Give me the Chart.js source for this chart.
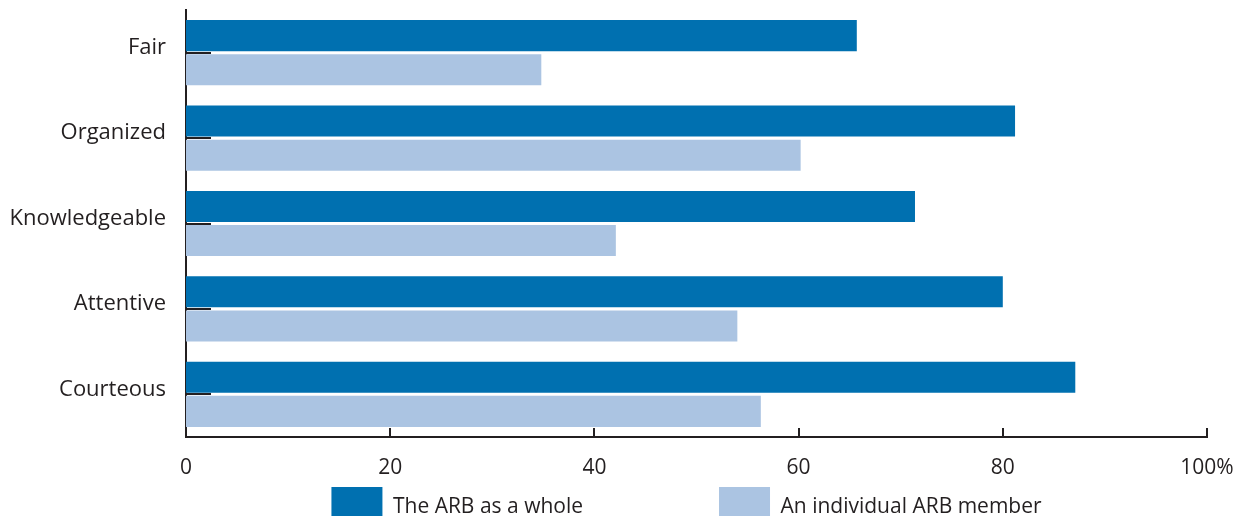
<!DOCTYPE html>
<html>
<head>
<meta charset="utf-8">
<script src="https://cdn.jsdelivr.net/npm/chart.js@4/dist/chart.umd.min.js"></script>
<style>
  html, body { margin: 0; padding: 0; background: #fff; }
  #wrap { width: 1233px; height: 516px; }
</style>
</head>
<body>
<div id="wrap"><canvas id="arbChart" width="1233" height="516"></canvas></div>
<script>
const categories = ['Fair', 'Organized', 'Knowledgeable', 'Attentive', 'Courteous'];
const arbWhole = [65.7, 81.2, 71.4, 80.0, 87.1];
const arbMember = [34.8, 60.2, 42.1, 54.0, 56.3];
const xTicks = [0, 20, 40, 60, 80, 100];

const ink = '#231f20';
const fontFamily = '"Open Sans", "DejaVu Sans", sans-serif';
const legendGap = 136;

// small inward tick marks on both axes, legend placed under the plot
const innerTicks = {
  id: 'innerTicks',
  beforeLayout(chart) {
    const lg = chart.legend;
    if (lg && !lg._fixedFit) {
      const fit = lg.fit;
      lg.fit = function () { fit.call(this); this.height = 29; };
      lg._fixedFit = true;
    }
  },
  afterLayout(chart) {
    const lg = chart.legend;
    lg.left = chart.chartArea.left - 10;
    lg.right = chart.chartArea.right - 10;
    lg.top = 487 - legendGap;
    lg.bottom = 516;
    lg.height = lg.bottom - lg.top;
  },
  afterDatasetsDraw(chart) {
    const { ctx, chartArea, scales } = chart;
    ctx.save();
    ctx.strokeStyle = ink;
    ctx.lineWidth = 2;
    scales.y.ticks.forEach((t, i) => {
      const y = Math.round(scales.y.getPixelForTick(i));
      ctx.beginPath();
      ctx.moveTo(chartArea.left, y);
      ctx.lineTo(chartArea.left + 25, y);
      ctx.stroke();
    });
    scales.x.ticks.forEach((t, i) => {
      const x = Math.round(scales.x.getPixelForTick(i));
      ctx.beginPath();
      ctx.moveTo(x, chartArea.bottom);
      ctx.lineTo(x, chartArea.bottom - 9);
      ctx.stroke();
    });
    ctx.restore();
  }
};

new Chart(document.getElementById('arbChart'), {
  type: 'bar',
  data: {
    labels: categories,
    datasets: [
      {
        label: 'The ARB as a whole',
        data: arbWhole,
        backgroundColor: '#0070b0',
        barPercentage: 0.91,
        categoryPercentage: 0.8
      },
      {
        label: 'An individual ARB member',
        data: arbMember,
        backgroundColor: '#abc4e2',
        barPercentage: 0.91,
        categoryPercentage: 0.8
      }
    ]
  },
  options: {
    indexAxis: 'y',
    responsive: false,
    animation: false,
    layout: { padding: { top: 10, right: 26, left: 0, bottom: 0 } },
    scales: {
      x: {
        min: 0,
        max: 100,
        afterBuildTicks: (scale) => { scale.ticks = xTicks.map(v => ({ value: v })); },
        grid: { display: false, drawTicks: false },
        border: { display: true, color: ink, width: 2 },
        ticks: {
          padding: 18,
          color: ink,
          font: { family: fontFamily, size: 21 },
          callback: (v) => v === 100 ? '100%' : v
        },
        afterFit: (scale) => {
          scale.height = 50;
          scale.paddingLeft = 0;
          scale.paddingRight = 0;
        }
      },
      y: {
        grid: { display: false, drawTicks: false },
        border: { display: true, color: ink, width: 2 },
        ticks: {
          padding: 20,
          labelOffset: -5,
          color: ink,
          font: { family: fontFamily, size: 22 }
        },
        afterFit: (scale) => {
          scale.width = 186;
          scale.paddingTop = 0;
          scale.paddingBottom = 0;
        }
      }
    },
    plugins: {
      tooltip: { enabled: false },
      legend: {
        position: 'bottom',
        labels: {
          boxWidth: 51,
          boxHeight: 40,
          padding: legendGap,
          color: ink,
          font: { family: fontFamily, size: 21 }
        }
      }
    }
  },
  plugins: [innerTicks]
});
</script>
</body>
</html>
